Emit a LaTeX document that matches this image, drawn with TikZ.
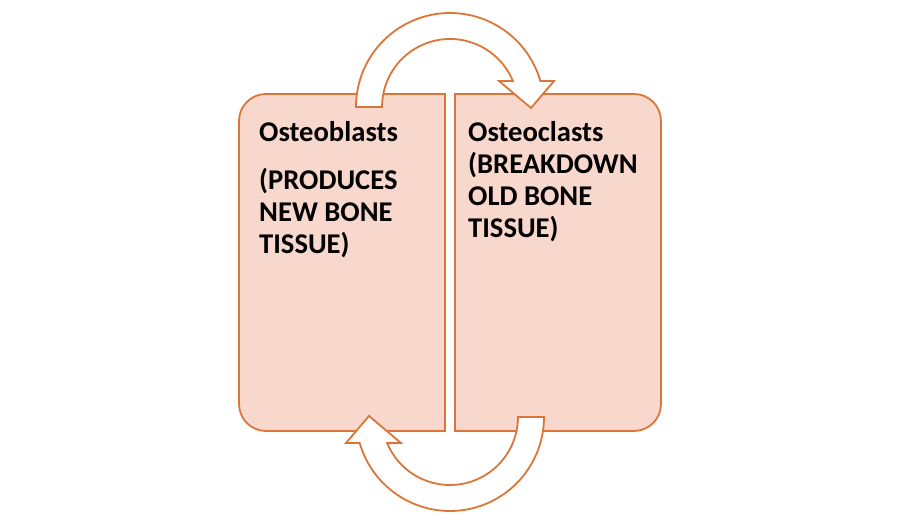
\documentclass[tikz,border=0pt]{standalone}
\usepackage{fontspec}
\setmainfont{Carlito}
\definecolor{boxfill}{HTML}{F8D7CC}
\definecolor{boxline}{HTML}{DC7638}
\begin{document}
\begin{tikzpicture}[x=1pt,y=1pt,
  boxstyle/.style={draw=boxline,fill=boxfill,line width=1.8pt},
  arrowstyle/.style={draw=boxline,fill=white,line width=1.8pt,line join=miter},
  txt/.style={anchor=base west,inner sep=0pt,font=\fontsize{28.6}{33}\selectfont\bfseries}]
\useasboundingbox (0,0) rectangle (900,525);
% boxes
\draw[boxstyle] (445,431) [rounded corners=27pt]-- (239,431) -- (239,94) [sharp corners]-- (445,94) -- cycle;
\draw[boxstyle] (455,431) [rounded corners=27pt]-- (661,431) -- (661,94) [sharp corners]-- (455,94) -- cycle;
% top circular arrow
\draw[arrowstyle] (356,418) arc[start angle=180,end angle=16.06,radius=94]
  -- (554,444) -- (531,417) -- (499,444) -- (512.85,444)
  arc[start angle=22.48,end angle=180,radius=68] -- cycle;
% bottom circular arrow
\begin{scope}[rotate around={180:(450,263)}]
\draw[arrowstyle] (356,418) arc[start angle=180,end angle=16.06,radius=94]
  -- (554,444) -- (531,417) -- (499,444) -- (512.85,444)
  arc[start angle=22.48,end angle=180,radius=68] -- cycle;
\end{scope}
% texts
\node[txt] (l1) at (259,383) {Osteoblasts};
\node[txt] (l2) at (259,335) {(PRODUCES};
\node[txt] (l3) at (259,303) {NEW BONE};
\node[txt] (l4) at (259,271) {TISSUE)};
\node[txt] (r1) at (468,383) {Osteoclasts};
\node[txt] (r2) at (468,351) {(BREAKDOWN};
\node[txt] (r3) at (468,319) {OLD BONE};
\node[txt] (r4) at (468,287) {TISSUE)};
\end{tikzpicture}
\end{document}
